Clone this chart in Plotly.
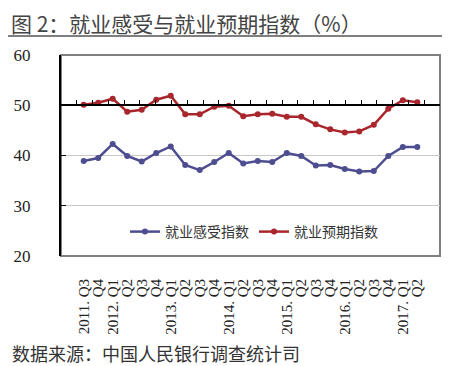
import plotly.graph_objects as go

quarters = ["2011. Q3", "Q4",
            "2012. Q1", "Q2", "Q3", "Q4",
            "2013. Q1", "Q2", "Q3", "Q4",
            "2014. Q1", "Q2", "Q3", "Q4",
            "2015. Q1", "Q2", "Q3", "Q4",
            "2016. Q1", "Q2", "Q3", "Q4",
            "2017. Q1", "Q2"]
# use unique category keys, display labels separately
cat_keys = [f"c{i}" for i in range(len(quarters))]

feel_index = [38.9, 39.5, 42.3, 39.9, 38.8, 40.5, 41.8, 38.1, 37.1, 38.7,
              40.5, 38.4, 38.9, 38.7, 40.5, 39.9, 38.0, 38.1, 37.3, 36.8,
              36.9, 39.9, 41.7, 41.7]
expect_index = [50.1, 50.5, 51.3, 48.7, 49.1, 51.1, 51.9, 48.2, 48.2, 49.7,
                49.9, 47.8, 48.2, 48.3, 47.7, 47.7, 46.2, 45.2, 44.6, 44.8,
                46.1, 49.3, 51.0, 50.6]

y_ticks = [20, 30, 40, 50, 60]
series_names = ["就业感受指数", "就业预期指数"]

BLUE = "#4d4d90"
RED = "#a8262c"
CJK = "Noto Sans CJK SC"
SERIF = "Liberation Serif"

# the page body adds an 8px offset; figure coords = screen coords - 8
OFF = 8
W, H = 450 - OFF, 366 - OFF
PLOT_LEFT, PLOT_RIGHT = 61, 440      # screen px
PLOT_TOP, PLOT_BOTTOM = 55, 256      # screen px
PLOT_W = PLOT_RIGHT - PLOT_LEFT
PLOT_H = PLOT_BOTTOM - PLOT_TOP


def py(screen_y):
    return (PLOT_BOTTOM - screen_y) / PLOT_H


def px(screen_x):
    return (screen_x - PLOT_LEFT) / PLOT_W


fig = go.Figure()
fig.add_trace(go.Scatter(x=cat_keys, y=feel_index, name=series_names[0], mode="lines+markers",
                         line=dict(color=BLUE, width=2.5), marker=dict(color=BLUE, size=6)))
fig.add_trace(go.Scatter(x=cat_keys, y=expect_index, name=series_names[1], mode="lines+markers",
                         line=dict(color=RED, width=2.5), marker=dict(color=RED, size=6)))

n = len(cat_keys)
# secondary axis: category axis line crossing at 50 with tick marks between categories
fig.add_trace(go.Scatter(x=[-0.5, n - 0.5], y=[None, None], xaxis="x2", showlegend=False,
                         hoverinfo="skip"))

fig.update_layout(
    width=W, height=H,
    margin=dict(l=PLOT_LEFT - OFF, r=W - (PLOT_RIGHT - OFF), t=PLOT_TOP - OFF,
                b=H - (PLOT_BOTTOM - OFF), autoexpand=False),
    paper_bgcolor="white", plot_bgcolor="white",
    showlegend=True,
    legend=dict(orientation="h", x=px(254), xanchor="center", y=py(232), yanchor="middle",
                font=dict(family=CJK, size=14, color="#333333"), bgcolor="rgba(255,255,255,0)",
                itemwidth=30),
    xaxis=dict(type="category", categoryorder="array", categoryarray=cat_keys,
               tickmode="array", tickvals=cat_keys, ticktext=quarters,
               tickangle=-90, ticks="", showline=False, showgrid=False, zeroline=False,
               tickfont=dict(family=SERIF, size=15, color="#222222"),
               ticklabelstandoff=19, automargin=False),
    xaxis2=dict(overlaying="x", anchor="free", position=0.75, side="bottom",
                range=[-0.5, n - 0.5], tickmode="array",
                tickvals=[i - 0.5 for i in range(n + 1)],
                ticks="inside", ticklen=5, tickwidth=1.2, tickcolor="black",
                showticklabels=False, showline=True, linecolor="black", linewidth=1.5,
                showgrid=False, zeroline=False, automargin=False),
    yaxis=dict(range=[20, 60], tickvals=y_ticks, ticks="inside", ticklen=5,
               tickcolor="black", showline=True, linecolor="black", linewidth=2,
               showgrid=True, gridcolor="#c8c8c8", gridwidth=1, zeroline=False,
               tickfont=dict(family=SERIF, size=17, color="#222222"),
               ticklabelstandoff=25, automargin=False),
    shapes=[
        dict(type="rect", xref="paper", yref="paper", x0=0, x1=1, y0=0, y1=1,
             line=dict(color="#808080", width=2), layer="below"),
        dict(type="line", xref="paper", yref="paper", x0=px(0), x1=px(452),
             y0=py(36), y1=py(36),
             line=dict(color="#555555", width=1.5)),
    ],
    annotations=[
        dict(text="图 2：就业感受与就业预期指数（%）", xref="paper", yref="paper",
             x=px(10), y=py(22.5), xanchor="left", yanchor="middle", showarrow=False,
             borderpad=0, font=dict(family=CJK, size=21, color="#444444")),
        dict(text="数据来源：中国人民银行调查统计司", xref="paper", yref="paper",
             x=px(10), y=py(353), xanchor="left", yanchor="middle", showarrow=False,
             font=dict(family=CJK, size=18, color="#333333")),
    ],
)

fig.write_html("out.html")
